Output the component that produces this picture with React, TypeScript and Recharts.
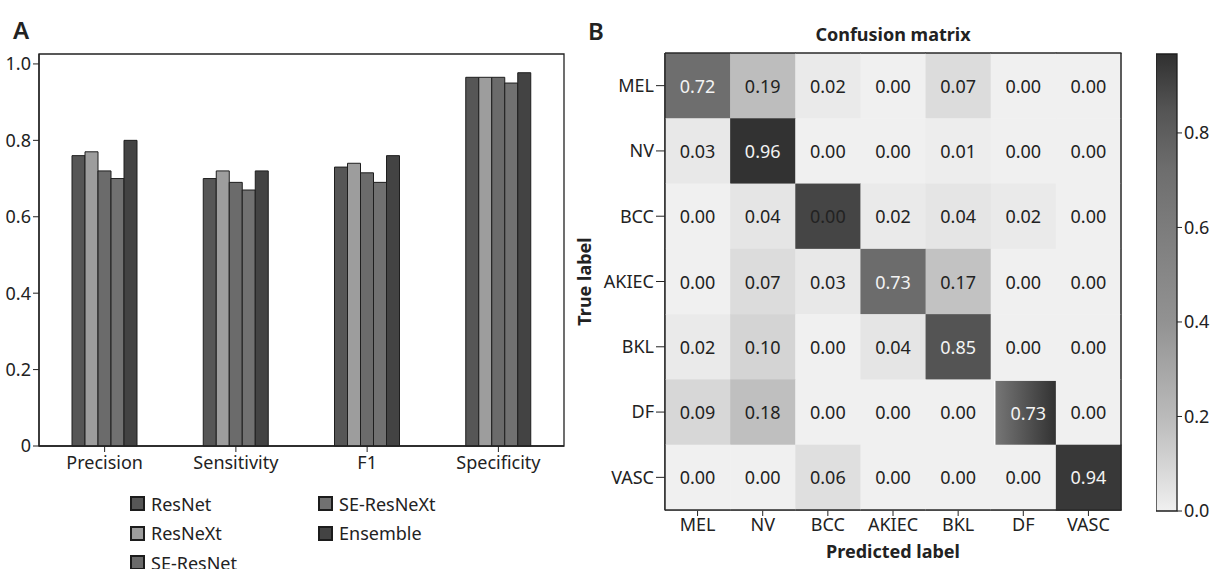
import React from 'react';
import {
  BarChart, Bar, XAxis, YAxis, Legend, ScatterChart, Scatter, ReferenceArea,
} from 'recharts';

// Panel A data
const METRICS = ['Precision', 'Sensitivity', 'F1', 'Specificity'];
const RESNET = [0.76, 0.70, 0.73, 0.965];
const RESNEXT = [0.77, 0.72, 0.74, 0.965];
const SE_RESNET = [0.72, 0.69, 0.715, 0.965];
const SE_RESNEXT = [0.70, 0.67, 0.69, 0.95];
const ENSEMBLE = [0.80, 0.72, 0.76, 0.977];
const BAR_TICKS = [0, 0.2, 0.4, 0.6, 0.8, 1.0];
const BAR_MAX = 1.026;

// Panel B data
const CLASSES = ['MEL', 'NV', 'BCC', 'AKIEC', 'BKL', 'DF', 'VASC'];
const CONFUSION = [
  [0.72, 0.19, 0.02, 0.00, 0.07, 0.00, 0.00],
  [0.03, 0.96, 0.00, 0.00, 0.01, 0.00, 0.00],
  [0.00, 0.04, 0.00, 0.02, 0.04, 0.02, 0.00],
  [0.00, 0.07, 0.03, 0.73, 0.17, 0.00, 0.00],
  [0.02, 0.10, 0.00, 0.04, 0.85, 0.00, 0.00],
  [0.09, 0.18, 0.00, 0.00, 0.00, 0.73, 0.00],
  [0.00, 0.00, 0.06, 0.00, 0.00, 0.00, 0.94],
];
// the BCC diagonal is printed as 0.00 but shaded dark in the figure
const SHADE_OVERRIDES = [{ row: 2, col: 2, shade: 0.9 }];
const GRADIENT_CELLS = [{ row: 5, col: 5 }];
const CBAR_TICKS = [0, 0.2, 0.4, 0.6, 0.8];
const CBAR_MAX = 0.967;

const FONT = '"Noto Sans", "Open Sans", sans-serif';
const INK = '#222';
const FRAME = '#2a2a2a';

const SERIES = [
  { name: 'ResNet', values: RESNET, fill: '#565656' },
  { name: 'ResNeXt', values: RESNEXT, fill: '#9d9d9d' },
  { name: 'SE-ResNet', values: SE_RESNET, fill: '#6b6b6b' },
  { name: 'SE-ResNeXt', values: SE_RESNEXT, fill: '#717171' },
  { name: 'Ensemble', values: ENSEMBLE, fill: '#434343' },
];

const barData = METRICS.map((m, i) => {
  const row: Record<string, any> = { metric: m };
  SERIES.forEach((s) => { row[s.name] = s.values[i]; });
  return row;
});

// grey colormap, value -> grey level
const SHADE_STOPS: [number, number][] = [
  [0, 240], [0.1, 212], [0.2, 186], [0.4, 146], [0.6, 124], [0.72, 110], [0.85, 84], [0.967, 48],
];
function greyLevel(v: number) {
  if (v <= SHADE_STOPS[0][0]) return SHADE_STOPS[0][1];
  for (let i = 1; i < SHADE_STOPS.length; i++) {
    const [v1, g1] = SHADE_STOPS[i];
    const [v0, g0] = SHADE_STOPS[i - 1];
    if (v <= v1) return g0 + ((v - v0) / (v1 - v0)) * (g1 - g0);
  }
  return SHADE_STOPS[SHADE_STOPS.length - 1][1];
}
function grey(v: number) {
  const g = Math.round(greyLevel(v));
  return `rgb(${g},${g},${g})`;
}

const N = CLASSES.length;
const cells = CONFUSION.flatMap((r, row) => r.map((value, col) => {
  const ov = SHADE_OVERRIDES.find((o) => o.row === row && o.col === col);
  const gradient = GRADIENT_CELLS.some((o) => o.row === row && o.col === col);
  return { row, col, value, shade: ov ? ov.shade : value, gradient };
}));

const cbarData = [{ name: 'cbar', top: CBAR_MAX }];

const HM_W = 653;
const HM_H = 569;
const HM_M = { top: 53, right: 92, left: 0, bottom: 0 };
const HM_YW = 105;
const HM_XH = 59;
const CELL_W = (HM_W - HM_YW - HM_M.right) / N;
const CELL_H = (HM_H - HM_M.top - HM_XH) / N;

// outer frame of the matrix, drawn by the edge cells so it sits on top of the fills
function EdgeLines({ x, y, row, col }: any) {
  const x2 = x + CELL_W;
  const y2 = y + CELL_H;
  const p = { stroke: FRAME, strokeWidth: 1.5 };
  return (
    <g>
      {row === 0 && <line x1={x} x2={x2 + 0.5} y1={y} y2={y} {...p} />}
      {row === N - 1 && <line x1={x} x2={x2 + 0.5} y1={y2} y2={y2} {...p} />}
      {col === 0 && <line x1={x} x2={x} y1={y} y2={y2 + 0.5} {...p} />}
      {col === N - 1 && <line x1={x2} x2={x2} y1={y} y2={y2 + 0.5} {...p} />}
    </g>
  );
}

function HeatCell(props: any) {
  const { cx, cy, payload } = props;
  const x = cx - CELL_W / 2;
  const y = cy - CELL_H / 2;
  const light = payload.value < 0.5;
  const textFill = light ? INK : '#f3f3f3';
  if (payload.gradient) {
    return (
      <g>
        <rect x={x} y={y} width={CELL_W + 0.5} height={CELL_H + 0.5} fill={grey(0)} />
        <rect x={x + 4} y={y + 1.5} width={CELL_W - 2} height={CELL_H} fill="url(#dfGrad)" />
        <line x1={x + 4} x2={x + 4} y1={y + 1.5} y2={y + CELL_H + 1.5} stroke="#fff" strokeWidth={1.5} />
        <text x={cx + 5} y={cy + 1} textAnchor="middle" dominantBaseline="central" fontSize={18} fill={textFill}>
          {payload.value.toFixed(2)}
        </text>
        <EdgeLines x={x} y={y} row={payload.row} col={payload.col} />
      </g>
    );
  }
  return (
    <g>
      <rect x={x} y={y} width={CELL_W + 0.5} height={CELL_H + 0.5} fill={grey(payload.shade)} />
      <text x={cx} y={cy} textAnchor="middle" dominantBaseline="central" fontSize={18} fill={textFill}>
        {payload.value.toFixed(2)}
      </text>
      <EdgeLines x={x} y={y} row={payload.row} col={payload.col} />
    </g>
  );
}

function BarLegend({ payload }: any) {
  const items = SERIES.map((s) => (payload || []).find((p: any) => p.value === s.name) || { value: s.name, color: s.fill });
  return (
    <div style={{
      display: 'grid', gridTemplateColumns: '188px 188px', gridTemplateRows: 'repeat(3, 29.5px)',
      gridAutoFlow: 'column', fontFamily: FONT,
    }}>
      {items.map((p: any) => (
        <div key={p.value} style={{ display: 'flex', alignItems: 'center', fontSize: 18, color: INK }}>
          <span style={{
            display: 'inline-block', width: 11, height: 11, background: p.color,
            border: '2px solid #1c1c1c', marginRight: 6,
          }} />
          {p.value}
        </div>
      ))}
    </div>
  );
}

const tickStyle = { fill: INK, fontSize: 18 };

export default function App() {
  return (
    <div style={{
      position: 'absolute', left: 0, top: 0, width: 1213, height: 569, background: '#fff',
      fontFamily: FONT, color: INK, overflow: 'hidden',
    }}>
      <div style={{ position: 'absolute', left: 13, top: 13, fontSize: 24, fontWeight: 600 }}>A</div>
      <div style={{ position: 'absolute', left: 588, top: 14, fontSize: 24, fontWeight: 600 }}>B</div>
      <div style={{
        position: 'absolute', left: 665, width: 456, top: 22, textAlign: 'center',
        fontSize: 18, fontWeight: 700,
      }}>Confusion matrix</div>

      {/* Panel A: metrics per model */}
      <div style={{ position: 'absolute', left: 0, top: 0 }}>
        <BarChart width={580} height={569} data={barData} barGap={0} barSize={13}
          margin={{ top: 54, right: 16, left: 0, bottom: 93 }}>
          <XAxis dataKey="metric" interval={0} height={30} tick={tickStyle} tickSize={6} tickMargin={4}
            tickLine={{ stroke: INK }} axisLine={{ stroke: INK, strokeWidth: 1.3 }} />
          <YAxis domain={[0, BAR_MAX]} ticks={BAR_TICKS} width={39} tick={tickStyle} tickSize={6} tickMargin={2}
            tickFormatter={(v: number) => (v === 0 ? '0' : v.toFixed(1))}
            tickLine={{ stroke: INK }} axisLine={{ stroke: INK, strokeWidth: 1.3 }} />
          <Legend content={<BarLegend />} layout="horizontal" verticalAlign="middle" align="center"
            wrapperStyle={{ left: 130, top: 489, width: 380 }} />
          {SERIES.map((s) => (
            <Bar key={s.name} dataKey={s.name} fill={s.fill} stroke="#1e1e1e" strokeWidth={1}
              isAnimationActive={false} />
          ))}
          <ReferenceArea y1={0} y2={BAR_MAX} fill="none" stroke={INK} strokeWidth={1.3} ifOverflow="visible" />
        </BarChart>
      </div>

      {/* Panel B: confusion matrix */}
      <div style={{ position: 'absolute', left: 560, top: 0 }}>
        <ScatterChart width={HM_W} height={HM_H} margin={HM_M}>
          <defs>
            <linearGradient id="dfGrad" x1="0" y1="0" x2="1" y2="0">
              <stop offset="0%" stopColor={grey(0.64)} />
              <stop offset="100%" stopColor={grey(0.967)} />
            </linearGradient>
          </defs>
          <XAxis type="number" dataKey="col" domain={[-0.5, 6.5]} ticks={[0, 1, 2, 3, 4, 5, 6]}
            tickFormatter={(i: number) => CLASSES[i]} height={HM_XH} tick={tickStyle} tickSize={6} tickMargin={2}
            tickLine={{ stroke: INK }} axisLine={{ stroke: FRAME, strokeWidth: 1.3 }}
            label={{ value: 'Predicted label', position: 'insideBottom', offset: 11, fill: INK, fontSize: 18, fontWeight: 700 }} />
          <YAxis type="number" dataKey="row" domain={[-0.5, 6.5]} reversed ticks={[0, 1, 2, 3, 4, 5, 6]}
            tickFormatter={(i: number) => CLASSES[i]} width={HM_YW} tick={tickStyle} tickSize={9} tickMargin={2}
            tickLine={{ stroke: INK }} axisLine={{ stroke: FRAME, strokeWidth: 1.3 }}
            label={{ value: 'True label', angle: -90, position: 'insideLeft', offset: 25, fill: INK, fontSize: 18, fontWeight: 700, style: { textAnchor: 'middle' } }} />
          <Scatter data={cells} shape={(p: any) => <HeatCell {...p} />} isAnimationActive={false} />
        </ScatterChart>
      </div>

      {/* colour bar */}
      <div style={{ position: 'absolute', left: 1156, top: 0 }}>
        <BarChart width={57} height={569} data={cbarData} barCategoryGap={0}
          margin={{ top: 54, right: 0, left: 0, bottom: 58 }}>
          <defs>
            <linearGradient id="cbarGrad" x1="0" y1="0" x2="0" y2="1">
              {[...SHADE_STOPS].reverse().map(([v]) => (
                <stop key={v} offset={`${(1 - v / CBAR_MAX) * 100}%`} stopColor={grey(v)} />
              ))}
            </linearGradient>
          </defs>
          <XAxis dataKey="name" hide />
          <YAxis orientation="right" domain={[0, CBAR_MAX]} ticks={CBAR_TICKS} width={36}
            tickFormatter={(v: number) => v.toFixed(1)} tick={tickStyle} tickSize={5} tickMargin={2}
            tickLine={{ stroke: INK }} axisLine={false} />
          <Bar dataKey="top" fill="url(#cbarGrad)" stroke="#1e1e1e" strokeWidth={1.3} isAnimationActive={false} />
        </BarChart>
      </div>
    </div>
  );
}
